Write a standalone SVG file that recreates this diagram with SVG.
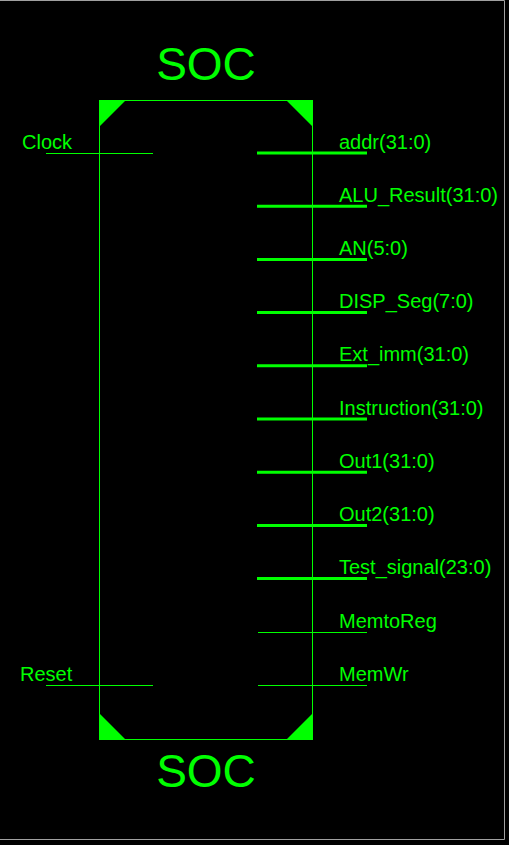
<svg xmlns="http://www.w3.org/2000/svg" width="509" height="845" viewBox="0 0 509 845">
<style>
.t{font-family:"Liberation Sans",Arial,sans-serif;font-size:20px;fill:#00ff00}
.big{font-family:"Liberation Sans",Arial,sans-serif;font-size:46px;fill:#00ff00;text-anchor:middle}
.thin{stroke:#00ff00;stroke-width:1;fill:none}
.bus{stroke:#00ff00;stroke-width:3;fill:none}
.c{fill:#00ff00}
</style>
<rect x="0" y="0" width="509" height="845" fill="#000"/>
<path d="M0 0.5H504.5V839.5H0" fill="none" stroke="#a0a0a0" stroke-width="1"/>
<g id="soc">
<rect x="99.5" y="100.5" width="213" height="639" class="thin"/>
<polygon class="c" points="99,100 126,100 99,127"/>
<polygon class="c" points="286,100 313,100 313,127"/>
<polygon class="c" points="99,713 99,740 126,740"/>
<polygon class="c" points="313,713 313,740 286,740"/>
<text class="big" x="206" y="80">SOC</text>
<text class="big" x="206" y="787">SOC</text>
</g>
<g id="connectors">
<line class="thin" x1="46" y1="153.5" x2="153" y2="153.5"/>
<line class="thin" x1="46" y1="685.5" x2="153" y2="685.5"/>
<line class="bus" x1="257" y1="153" x2="367" y2="153"/>
<line class="bus" x1="257" y1="206.2" x2="367" y2="206.2"/>
<line class="bus" x1="257" y1="259.4" x2="367" y2="259.4"/>
<line class="bus" x1="257" y1="312.6" x2="367" y2="312.6"/>
<line class="bus" x1="257" y1="365.8" x2="367" y2="365.8"/>
<line class="bus" x1="257" y1="419" x2="367" y2="419"/>
<line class="bus" x1="257" y1="472.2" x2="367" y2="472.2"/>
<line class="bus" x1="257" y1="525.4" x2="367" y2="525.4"/>
<line class="bus" x1="257" y1="578.6" x2="367" y2="578.6"/>
<line class="thin" x1="258" y1="632.5" x2="367" y2="632.5"/>
<line class="thin" x1="258" y1="685.5" x2="367" y2="685.5"/>
</g>
<g id="labels">
<text class="t" x="22" y="149">Clock</text>
<text class="t" x="20" y="681">Reset</text>
<text class="t" x="339" y="149">addr(31:0)</text>
<text class="t" x="339" y="202">ALU_Result(31:0)</text>
<text class="t" x="339" y="255">AN(5:0)</text>
<text class="t" x="339" y="308">DISP_Seg(7:0)</text>
<text class="t" x="339" y="361">Ext_imm(31:0)</text>
<text class="t" x="339" y="415">Instruction(31:0)</text>
<text class="t" x="339" y="468">Out1(31:0)</text>
<text class="t" x="339" y="521">Out2(31:0)</text>
<text class="t" x="339" y="574">Test_signal(23:0)</text>
<text class="t" x="339" y="628">MemtoReg</text>
<text class="t" x="339" y="681">MemWr</text>
</g>
</svg>
